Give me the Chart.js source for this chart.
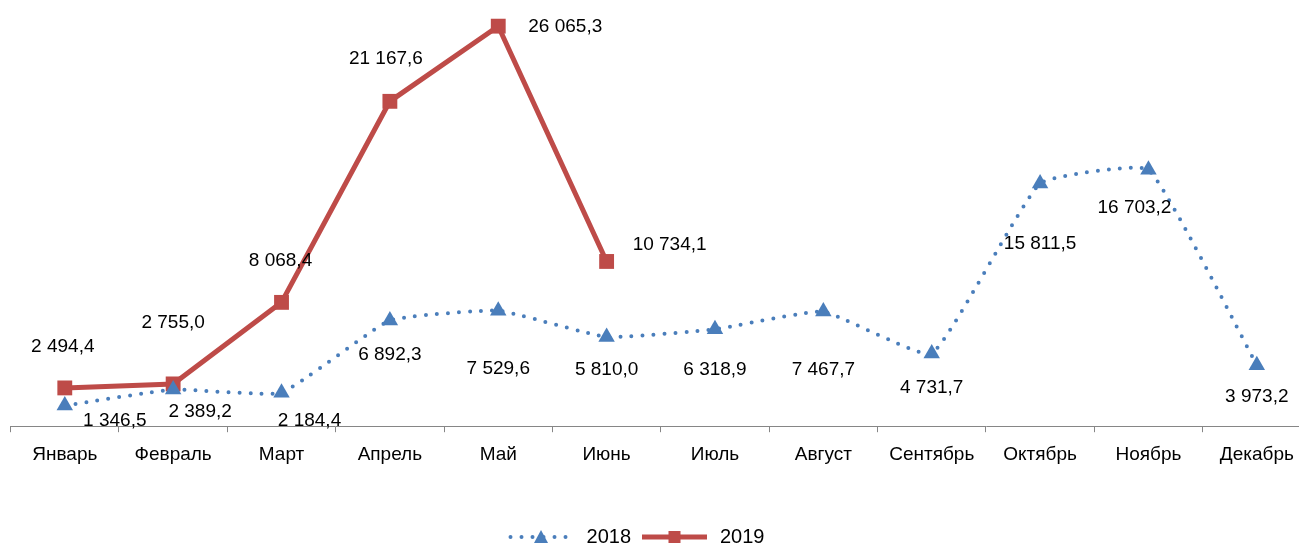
<!DOCTYPE html>
<html>
<head>
<meta charset="utf-8">
<script src="https://cdn.jsdelivr.net/npm/chart.js@4.4.1/dist/chart.umd.min.js"></script>
<style>
  html, body { margin: 0; padding: 0; background: #ffffff; overflow: hidden; }
  #wrap { width: 1299px; height: 545px; position: relative; overflow: hidden; }
  #c { display: block; }
</style>
</head>
<body>
<div id="wrap"><canvas id="c" width="1311" height="545"></canvas></div>
<script>
const months = ['Январь','Февраль','Март','Апрель','Май','Июнь','Июль','Август','Сентябрь','Октябрь','Ноябрь','Декабрь'];
const series2018 = [1346.5, 2389.2, 2184.4, 6892.3, 7529.6, 5810.0, 6318.9, 7467.7, 4731.7, 15811.5, 16703.2, 3973.2];
const series2019 = [2494.4, 2755.0, 8068.4, 21167.6, 26065.3, 10734.1, null, null, null, null, null, null];
const seriesNames = ['2018', '2019'];

// label offsets (style only, in px relative to point)
const offsets2018 = [[50,15],[27,22],[28,28],[0,34],[0,58],[0,33],[0,41],[0,58],[0,34],[0,60],[-14,38],[0,32]];
const offsets2019 = [[-2,-41],[0,-61],[-1,-42],[-4,-43],[67,1],[63,-17]];

const BLUE = '#4A7EBB';
const RED = '#BE4B48';
const FONT = '"Liberation Sans", Arial, sans-serif';
const VIEW_WIDTH = 1299;

function fmt(v) {
  const s = v.toFixed(1).replace('.', ',');
  const [ip, dp] = s.split(',');
  const withSp = ip.replace(/\B(?=(\d{3})+(?!\d))/g, ' ');
  return withSp + ',' + dp;
}

const labelPlugin = {
  id: 'dataLabels',
  afterDatasetsDraw(chart) {
    const ctx = chart.ctx;
    ctx.save();
    ctx.font = '19px ' + FONT;
    ctx.fillStyle = '#000000';
    ctx.textAlign = 'center';
    ctx.textBaseline = 'middle';
    chart.data.datasets.forEach((ds, di) => {
      const meta = chart.getDatasetMeta(di);
      const offs = di === 0 ? offsets2018 : offsets2019;
      meta.data.forEach((pt, i) => {
        const v = ds.data[i];
        if (v === null || v === undefined) return;
        const o = offs[i] || [0, 0];
        ctx.fillText(fmt(v), pt.x + o[0], pt.y + o[1]);
      });
    });
    ctx.restore();
  }
};

const legendPlugin = {
  id: 'customLegend',
  afterDraw(chart) {
    const ctx = chart.ctx;
    ctx.save();
    ctx.font = '20px ' + FONT;
    ctx.textBaseline = 'middle';
    ctx.textAlign = 'left';
    const lineW = 65, gapText = 13, gapItem = 11;
    const y = 537;
    const w0 = ctx.measureText(seriesNames[0]).width;
    const w1 = ctx.measureText(seriesNames[1]).width;
    const total = lineW + gapText + w0 + gapItem + lineW + gapText + w1;
    let x = VIEW_WIDTH / 2 - 13 - total / 2;
    // 2018
    ctx.strokeStyle = BLUE;
    ctx.lineWidth = 4;
    ctx.lineCap = 'round';
    ctx.setLineDash([0, 11]);
    ctx.beginPath();
    ctx.moveTo(x + 2, y);
    ctx.lineTo(x + lineW, y);
    ctx.stroke();
    ctx.setLineDash([]);
    const cx0 = x + lineW / 2;
    ctx.fillStyle = BLUE;
    ctx.beginPath();
    ctx.moveTo(cx0, y - 7);
    ctx.lineTo(cx0 + 7, y + 6);
    ctx.lineTo(cx0 - 7, y + 6);
    ctx.closePath();
    ctx.fill();
    ctx.fillStyle = '#000';
    ctx.fillText(seriesNames[0], x + lineW + gapText, y);
    x += lineW + gapText + w0 + gapItem;
    // 2019
    ctx.strokeStyle = RED;
    ctx.lineWidth = 5;
    ctx.lineCap = 'butt';
    ctx.beginPath();
    ctx.moveTo(x, y);
    ctx.lineTo(x + lineW, y);
    ctx.stroke();
    const cx1 = x + lineW / 2;
    ctx.fillStyle = RED;
    ctx.fillRect(cx1 - 6, y - 6, 12, 12);
    ctx.fillStyle = '#000';
    ctx.fillText(seriesNames[1], x + lineW + gapText, y);
    ctx.restore();
  }
};

new Chart(document.getElementById('c'), {
  type: 'line',
  data: {
    labels: months,
    datasets: [
      {
        label: seriesNames[0],
        data: series2018,
        borderColor: BLUE,
        backgroundColor: BLUE,
        borderWidth: 4,
        borderDash: [0, 11],
        borderCapStyle: 'round',
        tension: 0.12,
        pointStyle: 'triangle',
        pointRadius: 9.5,
        pointBorderWidth: 0,
        pointBackgroundColor: BLUE,
        clip: false
      },
      {
        label: seriesNames[1],
        data: series2019,
        borderColor: RED,
        backgroundColor: RED,
        borderWidth: 5,
        tension: 0,
        pointStyle: 'rect',
        pointRadius: 10.5,
        pointBorderWidth: 0,
        pointBackgroundColor: RED,
        spanGaps: false,
        clip: false
      }
    ]
  },
  options: {
    responsive: false,
    animation: false,
    events: [],
    layout: { autoPadding: false, padding: { left: 10.6, right: 0, top: 0, bottom: 68 } },
    plugins: {
      legend: { display: false },
      tooltip: { enabled: false }
    },
    scales: {
      x: {
        offset: true,
        afterFit(scale) { scale.paddingLeft = 0; scale.paddingRight = 0; },
        grid: {
          offset: true,
          drawOnChartArea: false,
          drawTicks: true,
          tickLength: 6,
          color: '#868686',
          lineWidth: 1
        },
        border: { display: true, color: '#868686', width: 1 },
        ticks: {
          color: '#000000',
          font: { family: FONT, size: 19 },
          padding: 11,
          maxRotation: 0,
          autoSkip: false
        }
      },
      y: {
        display: false,
        min: 0,
        max: 27770
      }
    }
  },
  plugins: [labelPlugin, legendPlugin]
});
</script>
</body>
</html>
